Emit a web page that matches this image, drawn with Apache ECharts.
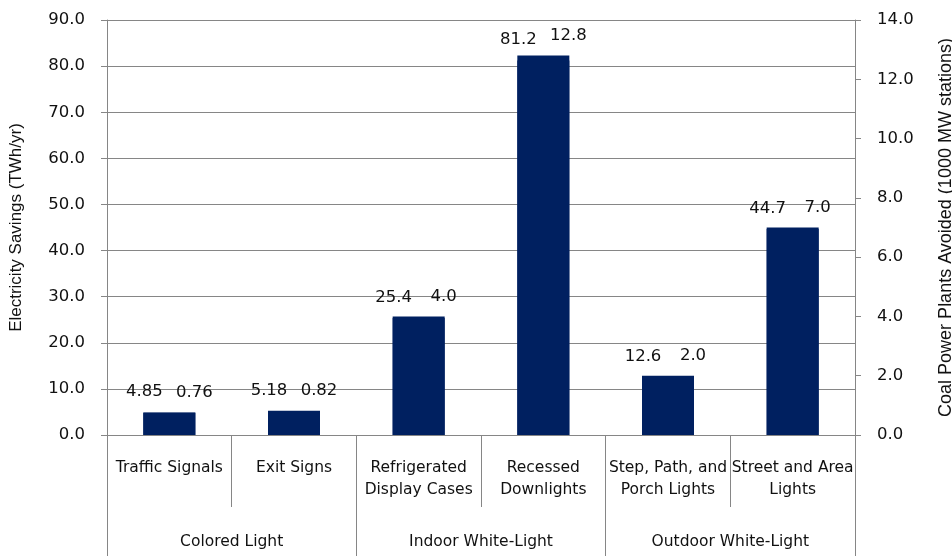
<!DOCTYPE html>
<html>
<head>
<meta charset="utf-8">
<script src="https://cdn.jsdelivr.net/npm/echarts@6/dist/echarts.min.js"></script>
<style>
  html, body { margin: 0; padding: 0; background: #fff; }
  #chart { width: 952px; height: 556px; }
</style>
</head>
<body>
<div id="chart"></div>
<script>
// Lighting applications and their estimated savings
const categories = [
  'Traffic Signals',
  'Exit Signs',
  'Refrigerated\nDisplay Cases',
  'Recessed\nDownlights',
  'Step, Path, and\nPorch Lights',
  'Street and Area\nLights'
];
const groups = ['Colored Light', 'Indoor White-Light', 'Outdoor White-Light'];

// Electricity savings, TWh/yr (left axis)
const electricitySavings = [4.85, 5.18, 25.4, 81.2, 12.6, 44.7];
// Coal power plants avoided, 1000 MW stations (right axis)
const plantsAvoided = [0.76, 0.82, 4.0, 12.8, 2.0, 7.0];

const leftAxisMax = 90, leftAxisStep = 10;
const rightAxisMax = 14, rightAxisStep = 2;

const BAR = '#002060';
const LINE = '#868686';
const TEXT = '#111111';
const NUM_FONT = 'DejaVu Sans';
const TITLE_FONT = 'Liberation Sans';

function oneDecimalOrAsIs(v) {
  const t = v * 10;
  return Math.abs(t - Math.round(t)) < 1e-9 ? v.toFixed(1) : String(v);
}

const chart = echarts.init(document.getElementById('chart'), null, { renderer: 'canvas' });

chart.setOption({
  animation: false,
  backgroundColor: '#ffffff',
  grid: {
    left: 107, right: 97, top: 20, bottom: 121,
    containLabel: false,
    outerBoundsMode: 'none'
  },
  xAxis: [
    {
      type: 'category',
      data: categories,
      position: 'bottom',
      axisLine: { show: true, lineStyle: { color: LINE, width: 1 } },
      axisTick: { show: true, length: 72, interval: 0, lineStyle: { color: LINE, width: 1 } },
      axisLabel: {
        interval: 0,
        margin: 22,
        color: TEXT,
        fontFamily: NUM_FONT,
        fontSize: 15.5,
        lineHeight: 22
      }
    },
    {
      type: 'category',
      data: groups,
      position: 'bottom',
      axisLine: { show: false },
      axisTick: { show: true, length: 121, interval: 0, lineStyle: { color: LINE, width: 1 } },
      axisLabel: {
        interval: 0,
        margin: 96,
        color: TEXT,
        fontFamily: NUM_FONT,
        fontSize: 15.5,
        lineHeight: 22
      }
    }
  ],
  yAxis: [
    {
      type: 'value',
      min: 0,
      max: leftAxisMax,
      interval: leftAxisStep,
      position: 'left',
      name: 'Electricity Savings (TWh/yr)',
      nameLocation: 'middle',
      nameGap: 82,
      nameRotate: 90,
      nameTextStyle: { color: TEXT, fontFamily: TITLE_FONT, fontSize: 17 },
      axisLine: { show: true, lineStyle: { color: LINE, width: 1 } },
      axisTick: { show: true, length: 6, lineStyle: { color: LINE, width: 1 } },
      splitLine: { show: true, lineStyle: { color: LINE, width: 1 } },
      axisLabel: {
        margin: 22,
        color: TEXT,
        fontFamily: NUM_FONT,
        fontSize: 16.5,
        formatter: v => v.toFixed(1)
      }
    },
    {
      type: 'value',
      min: 0,
      max: rightAxisMax,
      interval: rightAxisStep,
      position: 'right',
      name: 'Coal Power Plants Avoided (1000 MW stations)',
      nameLocation: 'middle',
      nameGap: 82,
      nameRotate: 90,
      nameTextStyle: { color: TEXT, fontFamily: TITLE_FONT, fontSize: 18 },
      axisLine: { show: true, lineStyle: { color: LINE, width: 1 } },
      axisTick: { show: true, length: 6, lineStyle: { color: LINE, width: 1 } },
      splitLine: { show: false },
      axisLabel: {
        margin: 22,
        color: TEXT,
        fontFamily: NUM_FONT,
        fontSize: 16.5,
        formatter: v => v.toFixed(1)
      }
    }
  ],
  series: [
    {
      name: 'Coal Power Plants Avoided',
      type: 'bar',
      xAxisIndex: 0,
      yAxisIndex: 1,
      data: plantsAvoided,
      barWidth: 52,
      barGap: '-100%',
      itemStyle: { color: BAR },
      label: {
        show: true,
        position: 'top',
        distance: 11,
        offset: [25, 0],
        color: TEXT,
        fontFamily: NUM_FONT,
        fontSize: 16.5,
        formatter: p => oneDecimalOrAsIs(p.value)
      }
    },
    {
      name: 'Electricity Savings',
      type: 'bar',
      xAxisIndex: 0,
      yAxisIndex: 0,
      data: electricitySavings,
      barWidth: 52,
      barGap: '-100%',
      itemStyle: { color: BAR },
      label: {
        show: true,
        position: 'top',
        distance: 12,
        offset: [-25, 0],
        color: TEXT,
        fontFamily: NUM_FONT,
        fontSize: 16.5,
        formatter: p => oneDecimalOrAsIs(p.value)
      }
    }
  ]
});
</script>
</body>
</html>
